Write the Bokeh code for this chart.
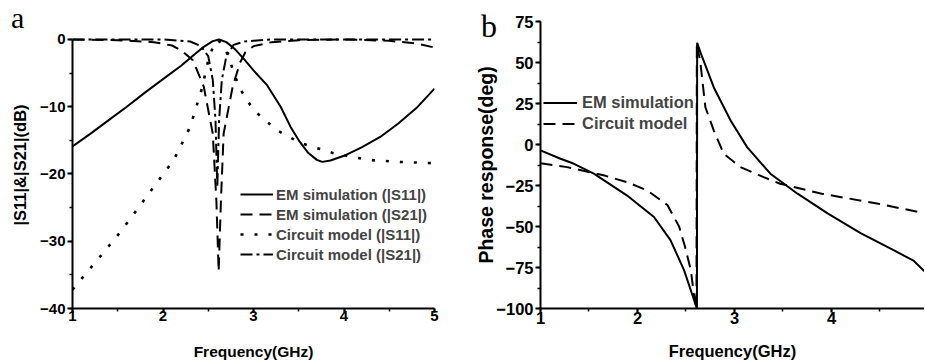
from bokeh.plotting import figure
from bokeh.models import Legend, LegendItem, SingleIntervalTicker, Range1d, Div
from bokeh.layouts import row
from bokeh.embed import file_html
from bokeh.resources import INLINE

# ---------------- panel a : |S11| & |S21| (dB) ----------------
em_s11_f = [1.0, 1.2, 1.4, 1.6, 1.8, 2.0, 2.2, 2.35, 2.45, 2.55, 2.62, 2.7, 2.8, 2.9, 3.0,
            3.15, 3.3, 3.41, 3.5, 3.6, 3.7, 3.76, 3.85, 4.0, 4.2, 4.4, 4.6, 4.8, 5.0]
em_s11_db = [-15.9, -14.0, -12.0, -10.0, -7.9, -5.9, -3.9, -2.2, -1.1, -0.25, 0.0, -0.4, -1.5, -3.0, -4.6,
             -6.8, -10.0, -13.0, -15.0, -16.8, -17.9, -18.2, -18.0, -17.3, -16.0, -14.5, -12.5, -10.2, -7.3]

em_s21_f = [1.0, 1.5, 1.9, 2.1, 2.2, 2.33, 2.45, 2.55, 2.59, 2.615, 2.64, 2.67, 2.77, 2.85, 2.91,
            3.0, 3.2, 3.5, 4.0, 4.5, 4.8, 5.0]
em_s21_db = [0.0, -0.1, -0.4, -0.9, -1.6, -3.1, -7.0, -14.0, -24.0, -34.5, -24.0, -14.0, -7.0, -3.5, -1.9,
             -1.0, -0.4, -0.1, 0.0, -0.2, -0.6, -1.2]

cm_s11_f = [1.0, 1.11, 1.33, 1.53, 1.73, 1.92, 2.01, 2.12, 2.3, 2.43, 2.5, 2.56, 2.6, 2.65, 2.71,
            2.84, 3.0, 3.26, 3.52, 3.88, 4.26, 4.6, 5.0]
cm_s11_db = [-37.2, -35.4, -31.9, -28.6, -25.0, -21.5, -19.9, -17.9, -13.0, -7.3, -3.1, -0.8, -0.1, -0.6, -2.1,
             -7.1, -10.5, -13.5, -15.4, -16.9, -17.9, -18.2, -18.4]

cm_s21_f = [1.0, 2.0, 2.3, 2.42, 2.5, 2.55, 2.58, 2.6, 2.62, 2.65, 2.7, 2.78, 2.9, 3.2, 5.0]
cm_s21_db = [0.0, 0.0, -0.3, -1.0, -2.5, -6.0, -12.0, -22.0, -12.0, -6.0, -2.5, -0.8, -0.3, 0.0, 0.0]

labels_a = ["EM simulation (|S11|)", "EM simulation (|S21|)",
            "Circuit model (|S11|)", "Circuit model (|S21|)"]

# ---------------- panel b : phase response (deg) ----------------
em_ph_f = [1.0, 1.206, 1.34, 1.55, 1.89, 2.17, 2.34, 2.48, 2.56, 2.6, 2.613, 2.615, 2.65, 2.787,
           2.96, 3.13, 3.37, 3.65, 3.96, 4.3, 4.64, 4.85, 4.97, 5.0]
em_ph_deg = [-3.6, -8.7, -11.6, -17.8, -31.0, -44.2, -58.3, -76.6, -90.7, -97.8, -100.0, 62.0, 56.0, 34.8,
             14.6, -1.6, -17.8, -30.0, -42.0, -54.0, -64.4, -71.0, -78.0, -80.0]

cm_ph_f = [1.0, 1.275, 1.65, 1.89, 2.10, 2.31, 2.43, 2.49, 2.55, 2.58, 2.608, 2.612, 2.65, 2.70,
           2.787, 2.89, 3.06, 3.30, 3.47, 3.9, 4.47, 4.97, 5.0]
cm_ph_deg = [-11.5, -13.8, -18.8, -22.9, -28.0, -37.0, -50.2, -62.4, -76.6, -90.7, -100.0, 62.0, 49.0, 22.7,
             8.5, -5.7, -13.8, -19.9, -23.9, -30.0, -36.0, -42.0, -42.5]

labels_b = ["EM simulation", "Circuit model"]

FONT = "Liberation Sans"


def style_axes(p, tick_size, x_tick_standoff, xlab_size, xlab_standoff, ylab_size, ylab_standoff):
    for ax in (p.xaxis[0], p.yaxis[0]):
        ax.axis_line_width = 2
        ax.axis_line_color = "black"
        ax.major_tick_line_width = 2
        ax.minor_tick_line_width = 1.5
        ax.major_tick_in = 0
        ax.major_tick_out = 5
        ax.minor_tick_in = 0
        ax.minor_tick_out = 3
        ax.major_label_text_font = FONT
        ax.major_label_text_font_style = "bold"
        ax.major_label_text_font_size = tick_size
        ax.major_label_text_color = "black"
        ax.axis_label_text_font = FONT
        ax.axis_label_text_font_style = "bold"
        ax.axis_label_text_color = "black"
    p.xaxis[0].major_tick_out = 4
    p.xaxis[0].major_label_standoff = x_tick_standoff
    p.yaxis[0].major_label_standoff = 2
    p.xaxis[0].axis_label_text_font_size = xlab_size
    p.xaxis[0].axis_label_standoff = xlab_standoff
    p.yaxis[0].axis_label_text_font_size = ylab_size
    p.yaxis[0].axis_label_standoff = ylab_standoff
    p.xgrid.visible = False
    p.ygrid.visible = False
    p.outline_line_color = None
    p.background_fill_color = "white"
    p.border_fill_color = "white"


def panel_letter(text, left, top, size):
    return Div(text=text, width=20, height=40,
               styles={"position": "absolute", "left": f"{left}px", "top": f"{top}px",
                       "font-family": "Liberation Serif", "font-size": size,
                       "line-height": "normal", "color": "black", "z-index": "10",
                       "margin": "0", "padding": "0"})


# ---- figure a ----  frame: x 72..434, y 21..309 (0 dB at y=39)
pa = figure(width=470, height=362, x_range=Range1d(1, 5), y_range=Range1d(-40, 2.67),
            min_border_left=72, min_border_right=36, min_border_top=21, min_border_bottom=53,
            output_backend="svg", toolbar_location=None)
pa.xaxis.ticker = SingleIntervalTicker(interval=1, num_minor_ticks=2)
pa.yaxis.ticker = SingleIntervalTicker(interval=10, num_minor_ticks=2)
pa.yaxis.bounds = (-40, 0)
pa.xaxis.axis_label = "Frequency(GHz)"
pa.yaxis.axis_label = "|S11|&|S21|(dB)"
style_axes(pa, "15px", -2, "15.5px", 19, "16.5px", 8)

ra1 = pa.line(em_s11_f, em_s11_db, line_color="black", line_width=2)
ra2 = pa.line(em_s21_f, em_s21_db, line_color="black", line_width=2, line_dash="12 7")
ra3 = pa.line(cm_s11_f, cm_s11_db, line_color="black", line_width=2.6, line_dash="3 11")
ra4 = pa.line(cm_s21_f, cm_s21_db, line_color="black", line_width=2, line_dash="12 4 3 4")

leg_a = Legend(items=[LegendItem(label=l, renderers=[r]) for l, r in zip(labels_a, [ra1, ra2, ra3, ra4])],
               location=(168, 44), border_line_color=None, background_fill_alpha=0,
               padding=0, margin=0, spacing=0, glyph_width=33, glyph_height=20, label_height=20,
               label_standoff=3, label_text_font=FONT, label_text_font_style="bold",
               label_text_font_size="15px")
pa.add_layout(leg_a)

# ---- figure b ----  frame: x 540..924, y 21..309
pb = figure(width=454, height=362, x_range=Range1d(1, 4.959), y_range=Range1d(-100, 75),
            min_border_left=70, min_border_right=0, min_border_top=21, min_border_bottom=53,
            output_backend="svg", toolbar_location=None)
pb.xaxis.ticker = SingleIntervalTicker(interval=1, num_minor_ticks=2)
pb.yaxis.ticker = SingleIntervalTicker(interval=25, num_minor_ticks=2)
pb.xaxis.axis_label = "Frequency(GHz)"
pb.yaxis.axis_label = "Phase response(deg)"
style_axes(pb, "16.5px", -1, "16.5px", 15, "19.5px", -4)

rb1 = pb.line(em_ph_f, em_ph_deg, line_color="black", line_width=2)
rb2 = pb.line(cm_ph_f, cm_ph_deg, line_color="black", line_width=2, line_dash="12 7")

leg_b = Legend(items=[LegendItem(label=l, renderers=[r]) for l, r in zip(labels_b, [rb1, rb2])],
               location=(3, 174), border_line_color=None, background_fill_alpha=0,
               padding=0, margin=0, spacing=0, glyph_width=34, glyph_height=21, label_height=21,
               label_standoff=5, label_text_font=FONT, label_text_font_style="bold",
               label_text_font_size="16.5px")
pb.add_layout(leg_b)

div_a = panel_letter("a", 11, 1, "30px")
div_b = panel_letter("b", 481, 8, "32px")

layout = row(pa, pb, div_a, div_b)
open("out.html", "w").write(file_html(layout, INLINE))
